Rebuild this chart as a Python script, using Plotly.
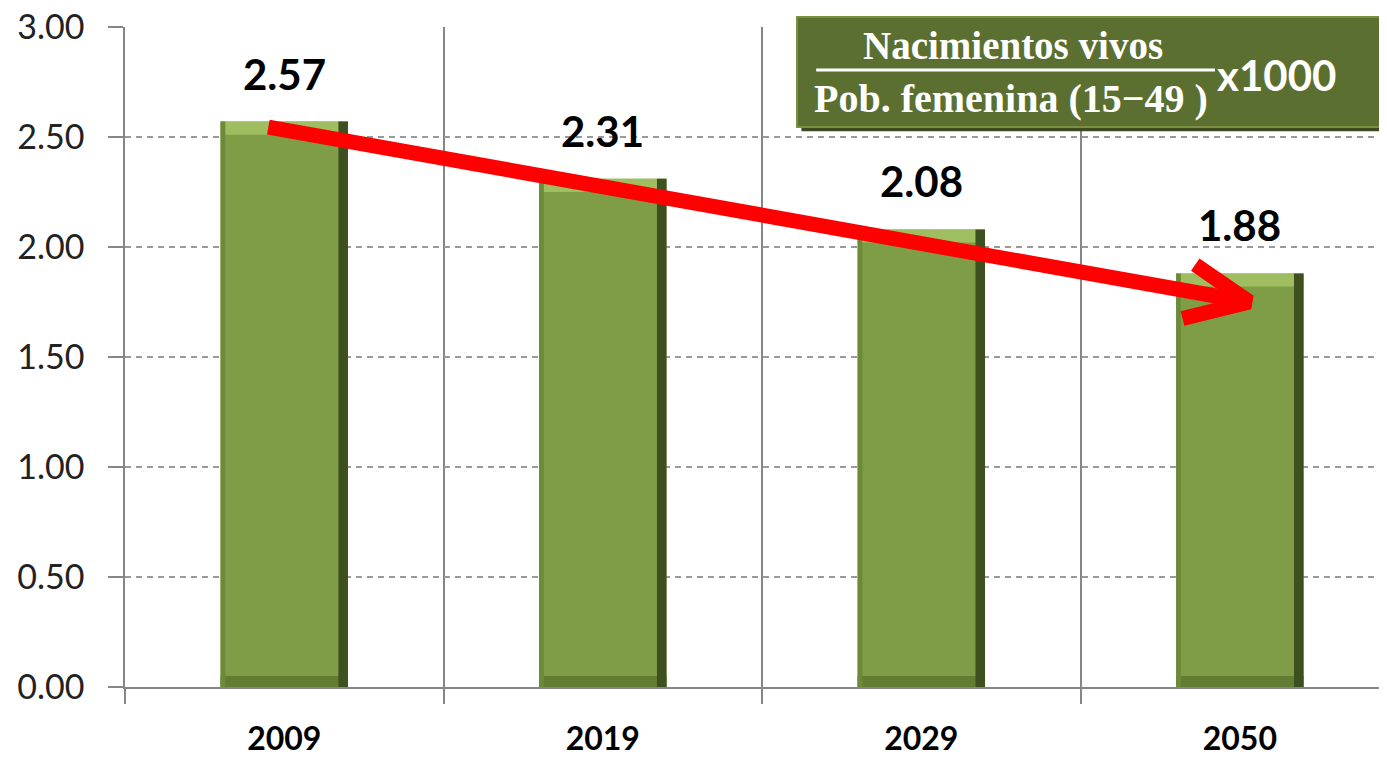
import plotly.graph_objects as go

years = ["2009", "2019", "2029", "2050"]
values = [2.57, 2.31, 2.08, 1.88]
y_ticks = [0, 0.5, 1.0, 1.5, 2.0, 2.5, 3.0]
y_ticklabels = ["0.00", "0.50", "1.00", "1.50", "2.00", "2.50", "3.00"]
formula_top = "Nacimientos vivos"
formula_bottom = "Pob. femenina (15−49 )"
formula_factor = "x1000"

# arrow path in data coordinates (shaft start, tip, head arms)
arrow_start = (-0.05, 2.545)
arrow_tip = (3.03, 1.75)
arrow_arm_up = (2.86, 1.92)
arrow_arm_down = (2.82, 1.675)

xpos = list(range(len(years)))
BW = 0.4

fig = go.Figure()
# main bar body
fig.add_trace(go.Bar(x=xpos, y=values, width=BW, marker=dict(color="#7f9d46", line=dict(width=0)),
                     hoverinfo="skip", showlegend=False))
# bottom bevel (darker)
fig.add_trace(go.Bar(x=xpos, y=[0.05] * len(values), base=[0] * len(values), width=BW,
                     marker=dict(color="#627c33", line=dict(width=0)), hoverinfo="skip", showlegend=False))
# top bevel (lighter)
fig.add_trace(go.Bar(x=xpos, y=[0.06] * len(values), base=[v - 0.06 for v in values], width=BW,
                     marker=dict(color="#9fbe62", line=dict(width=0)), hoverinfo="skip", showlegend=False))
# right edge (dark)
fig.add_trace(go.Bar(x=xpos, y=values, width=0.03, offset=BW / 2 - 0.03,
                     marker=dict(color="#3f5020", line=dict(width=0)), hoverinfo="skip", showlegend=False))
# left edge (slightly dark)
fig.add_trace(go.Bar(x=xpos, y=values, width=0.015, offset=-BW / 2,
                     marker=dict(color="#6d8a3a", line=dict(width=0)), hoverinfo="skip", showlegend=False))

# red arrow
fig.add_trace(go.Scatter(
    x=[arrow_start[0], arrow_tip[0], None, arrow_arm_up[0], arrow_tip[0], arrow_arm_down[0]],
    y=[arrow_start[1], arrow_tip[1], None, arrow_arm_up[1], arrow_tip[1], arrow_arm_down[1]],
    mode="lines", line=dict(color="#ff0000", width=15), hoverinfo="skip", showlegend=False))

# value labels
for xi, v in zip(xpos, values):
    fig.add_annotation(x=xi, y=v, text=f"<b>{v:.2f}</b>", showarrow=False, yanchor="bottom",
                       yshift=21, font=dict(family="Lato", size=42, color="#000000"))

# formula box (paper coordinates so it is not clipped to the plot area)
fig.add_shape(type="rect", xref="paper", yref="paper", x0=0.536, x1=1.02, y0=0.842, y1=1.009,
              fillcolor="#3d4a20", line=dict(width=0), layer="above")
fig.add_shape(type="rect", xref="paper", yref="paper", x0=0.5325, x1=1.02, y0=0.8485, y1=1.015,
              fillcolor="#5b7030", line=dict(color="#7a9040", width=2), layer="above")
fig.add_shape(type="line", xref="x", yref="y", x0=1.67, x1=2.922, y0=2.805, y1=2.805,
              line=dict(color="#ffffff", width=3), layer="above")
fig.add_annotation(x=2.288, y=2.918, text=f"<b>{formula_top}</b>", showarrow=False,
                   font=dict(family="Liberation Serif", size=39, color="#ffffff"))
fig.add_annotation(x=2.282, y=2.677, text=f"<b>{formula_bottom}</b>", showarrow=False,
                   font=dict(family="Liberation Serif", size=40, color="#ffffff"))
fig.add_annotation(x=3.114, y=2.782, text=f"<b>{formula_factor}</b>", showarrow=False,
                   font=dict(family="Lato", size=42, color="#ffffff"))

fig.update_layout(
    width=1379, height=751,
    margin=dict(l=117, r=0, t=19, b=72, autoexpand=False),
    paper_bgcolor="#ffffff", plot_bgcolor="#ffffff",
    barmode="overlay",
    xaxis=dict(
        range=[-0.5, 3.462], tickmode="array", tickvals=xpos, ticktext=[f"<b>{y}</b>" for y in years],
        tickfont=dict(family="Lato", size=32, color="#000000"), ticks="", showgrid=False,
        ticklabelstandoff=23, showline=True, linecolor="#868686", linewidth=2, zeroline=False,
        minor=dict(tickmode="linear", tick0=0.5, dtick=1, showgrid=True, gridcolor="#868686",
                   gridwidth=1.5, ticks="outside", ticklen=15, tickcolor="#868686", tickwidth=1.5),
        fixedrange=True, ticklabeloverflow="allow", automargin=False,
    ),
    yaxis=dict(
        range=[0, 3.0], tickmode="array", tickvals=y_ticks, ticktext=y_ticklabels,
        tickfont=dict(family="Lato", size=34, color="#222222"),
        ticks="outside", ticklen=15, tickcolor="#868686", tickwidth=1.5,
        showgrid=True, gridcolor="#9a9a9a", gridwidth=1.5, griddash="6px,5px",
        showline=True, linecolor="#868686", linewidth=1.5, zeroline=False,
        ticklabelstandoff=17, fixedrange=True, ticklabeloverflow="allow", automargin=False,
    ),
)

fig.write_html("out.html")
